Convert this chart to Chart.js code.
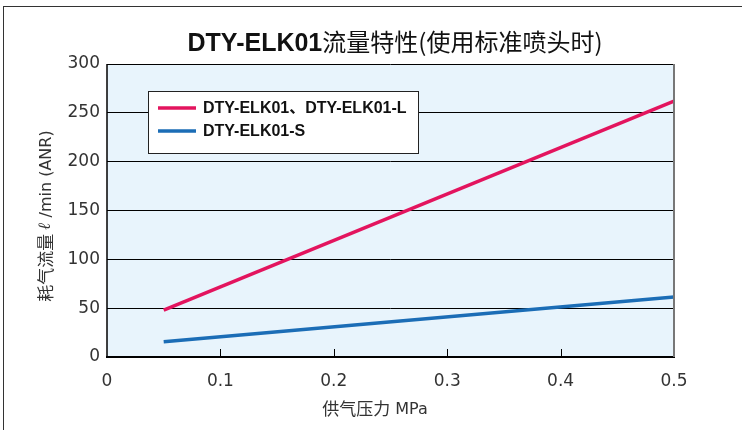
<!DOCTYPE html>
<html><head><meta charset="utf-8">
<script src="https://cdn.jsdelivr.net/npm/chart.js@4/dist/chart.umd.min.js"></script>
<style>
html,body{margin:0;padding:0;background:#fff;}
#wrap{position:relative;width:742px;height:430px;}
#frame{position:absolute;left:3px;top:6px;right:-2px;bottom:-2px;border-left:1px solid #333;border-top:1px solid #333;}
canvas{position:absolute;left:0;top:0;}
</style></head>
<body><div id="wrap"><div id="frame"></div><canvas id="c" width="742" height="430"></canvas></div>
<script>
const titleBold = "DTY-ELK01";
const titleRest = "流量特性(使用标准喷头时)";
const xTitleA = "供气压力";
const xTitleB = " MPa";
const yTitleA = "耗气流量 ";
const yTitleL = "ℓ";
const yTitleB = " /min (ANR)";
const seriesNames = ["DTY-ELK01、DTY-ELK01-L", "DTY-ELK01-S"];
const pressure = [0.05, 0.5];
const flowStd = [48, 262];
const flowS = [15.5, 61.5];
const xTicks = [0, 0.1, 0.2, 0.3, 0.4, 0.5];
const yTicks = [0, 50, 100, 150, 200, 250, 300];

const L = 107, R = 674, T = 64, B = 357;
const LAT = '"Liberation Sans", Arial, "Noto Sans CJK SC", sans-serif';
const TICKF = '"DejaVu Sans", sans-serif';
const CJK = '"Noto Sans CJK SC", sans-serif';

const deco = {
  id: 'deco',
  beforeDraw(chart) {
    const {ctx, chartArea: a} = chart;
    ctx.save();
    ctx.fillStyle = '#e8f4fc';
    ctx.fillRect(a.left, a.top, a.right - a.left, a.bottom - a.top);
    ctx.restore();
  },
  afterDatasetsDraw(chart) {
    const {ctx, chartArea: a, scales} = chart;
    ctx.save();
    ctx.strokeStyle = '#000'; ctx.lineWidth = 1.5;
    ctx.beginPath(); ctx.moveTo(a.left, a.top); ctx.lineTo(a.left, a.bottom); ctx.stroke();
    ctx.lineWidth = 2;
    ctx.beginPath(); ctx.moveTo(a.left - 1, a.bottom); ctx.lineTo(a.right + 1, a.bottom); ctx.stroke();
    ctx.strokeStyle = '#777'; ctx.lineWidth = 2;
    ctx.beginPath(); ctx.moveTo(a.right, a.top); ctx.lineTo(a.right, a.bottom); ctx.stroke();
    ctx.strokeStyle = '#000'; ctx.lineWidth = 1;
    xTicks.forEach(v => {
      if (v === 0 || v === 0.5) return;
      const x = Math.round(scales.x.getPixelForValue(v)) + 0.5;
      ctx.beginPath(); ctx.moveTo(x, a.bottom); ctx.lineTo(x, a.bottom - 8); ctx.stroke();
    });
    // legend
    const lx = 148, ly = 91, lw = 270, lh = 62;
    ctx.fillStyle = '#fff'; ctx.fillRect(lx, ly, lw, lh);
    ctx.strokeStyle = '#222'; ctx.lineWidth = 1;
    ctx.strokeRect(lx + 0.5, ly + 0.5, lw, lh);
    chart.data.datasets.forEach((ds, i) => {
      const y = 108 + i * 23;
      ctx.strokeStyle = ds.borderColor; ctx.lineWidth = 3.5;
      ctx.beginPath(); ctx.moveTo(158, y); ctx.lineTo(196, y); ctx.stroke();
      ctx.fillStyle = '#111'; ctx.font = 'bold 16px ' + LAT;
      ctx.textBaseline = 'middle'; ctx.textAlign = 'left';
      ctx.fillText(ds.label, 203, y + 1);
    });
    // title
    ctx.fillStyle = '#111'; ctx.textBaseline = 'alphabetic';
    ctx.font = 'bold 25px ' + LAT;
    const w1 = ctx.measureText(titleBold).width;
    ctx.font = '24px ' + CJK;
    const w2 = ctx.measureText(titleRest).width;
    let sx = 395 - (w1 + w2) / 2;
    ctx.font = 'bold 25px ' + LAT;
    ctx.fillText(titleBold, sx, 51);
    ctx.font = '24px ' + CJK;
    ctx.fillText(titleRest, sx + w1, 51);
    // x title
    ctx.fillStyle = '#333'; ctx.textBaseline = 'middle'; ctx.textAlign = 'left';
    ctx.font = '17px ' + CJK;
    const b1 = ctx.measureText(xTitleA).width;
    ctx.font = '16px ' + TICKF;
    const b2 = ctx.measureText(xTitleB).width;
    let q = 375 - (b1 + b2) / 2;
    ctx.font = '17px ' + CJK; ctx.fillText(xTitleA, q, 409);
    ctx.font = '16px ' + TICKF; ctx.fillText(xTitleB, q + b1, 410);
    // y title
    ctx.translate(46, 216); ctx.rotate(-Math.PI / 2);
    ctx.font = '17px ' + CJK;
    const a1 = ctx.measureText(yTitleA).width;
    ctx.font = 'bold italic 17px "DejaVu Serif", serif';
    const a2 = ctx.measureText(yTitleL).width;
    ctx.font = '16px ' + TICKF;
    const a3 = ctx.measureText(yTitleB).width;
    let p = -(a1 + a2 + a3) / 2;
    ctx.font = '17px ' + CJK; ctx.fillText(yTitleA, p, 0); p += a1;
    ctx.font = 'bold italic 17px "DejaVu Serif", serif'; ctx.fillText(yTitleL, p, 0); p += a2;
    ctx.font = '16px ' + TICKF; ctx.fillText(yTitleB, p, 1);
    ctx.restore();
  }
};

new Chart(document.getElementById('c'), {
  type: 'line',
  data: {
    datasets: [
      { label: seriesNames[0], data: pressure.map((x, i) => ({x, y: flowStd[i]})), borderColor: '#e3145e', borderWidth: 3.5, pointRadius: 0, tension: 0 },
      { label: seriesNames[1], data: pressure.map((x, i) => ({x, y: flowS[i]})), borderColor: '#1b6db6', borderWidth: 3.5, pointRadius: 0, tension: 0 }
    ]
  },
  options: {
    responsive: false, animation: false, devicePixelRatio: 1,
    layout: { padding: { left: 0, top: T, right: 742 - R, bottom: 0 } },
    plugins: { legend: { display: false }, title: { display: false }, tooltip: { enabled: false } },
    scales: {
      x: {
        type: 'linear', min: 0, max: 0.5,
        afterFit(s) { s.height = 430 - B; },
        afterBuildTicks(s) { s.ticks = xTicks.map(v => ({value: v})); },
        grid: { display: false, drawTicks: false },
        border: { display: false },
        ticks: { color: '#333', font: { family: TICKF, size: 17 }, padding: 14, maxRotation: 0,
          callback: v => v === 0 ? '0' : String(v) }
      },
      y: {
        min: 0, max: 300,
        afterFit(s) { s.width = L; },
        afterBuildTicks(s) { s.ticks = yTicks.map(v => ({value: v})); },
        grid: { color: '#000', lineWidth: 1, drawTicks: false },
        border: { display: false },
        ticks: { color: '#333', font: { family: TICKF, size: 17 }, padding: 7 }
      }
    }
  },
  plugins: [deco]
});
</script></body></html>
